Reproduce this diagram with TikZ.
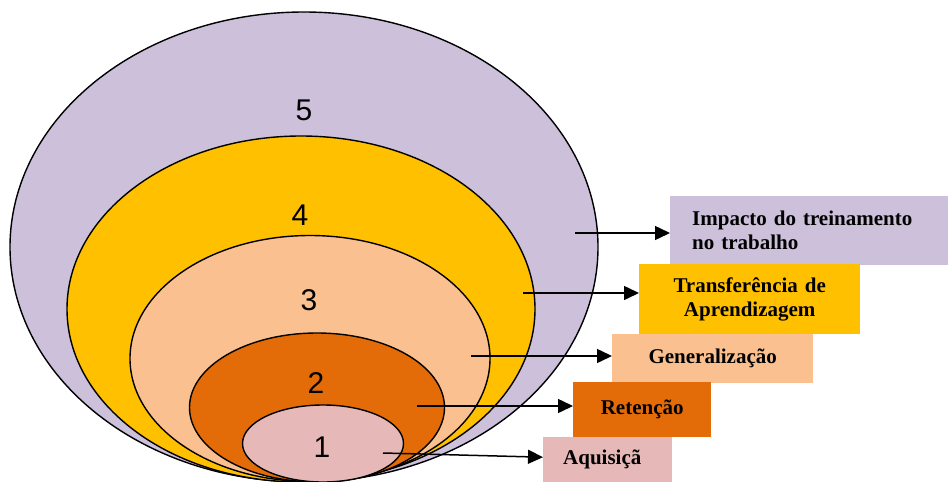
\documentclass[tikz,border=0pt]{standalone}
\usepackage{fontspec}
\setmainfont{Liberation Serif}
\newfontfamily\digitfont{Liberation Sans}
\usetikzlibrary{shapes.geometric,arrows.meta}

\definecolor{lavender}{HTML}{CCC0DA}
\definecolor{gold}{HTML}{FFC000}
\definecolor{peach}{HTML}{FAC090}
\definecolor{burnt}{HTML}{E36C09}
\definecolor{rose}{HTML}{E6B9B8}

\tikzset{
  ring/.style={ellipse, draw=black, line width=1.4pt, inner sep=0pt},
  level/.style={font=\digitfont\fontsize{30}{30}\selectfont, inner sep=0pt},
  label box/.style={rectangle, anchor=north west, inner ysep=0pt,
    font=\bfseries\fontsize{21}{24}\selectfont},
  arr/.style={line width=1.5pt, -{Triangle[length=15pt,width=14pt]}}
}

\begin{document}
\begin{tikzpicture}[x=1pt,y=-1pt]
\useasboundingbox (0,0) rectangle (948,482);

% nested levels, outermost first
\node[ring, fill=lavender, minimum width=588pt, minimum height=470pt] (e5) at (304,247) {};
\node[ring, fill=gold,     minimum width=468pt, minimum height=346pt] (e4) at (301,309) {};
\node[ring, fill=peach,    minimum width=360pt, minimum height=246pt] (e3) at (310,358.5) {};
\node[ring, fill=burnt,    minimum width=255pt, minimum height=149pt] (e2) at (317,407.5) {};
\node[ring, fill=rose,     minimum width=161pt, minimum height=77pt]  (e1) at (323,443.5) {};

% level numbers
\node[level] (n5) at (304,110) {5};
\node[level] (n4) at (300,215) {4};
\node[level] (n3) at (309,300) {3};
\node[level] (n2) at (316,383) {2};
\node[level] (n1) at (322,447) {1};

% label boxes
\node[label box, fill=lavender, minimum width=278pt, minimum height=69pt,
      text width=234pt, inner xsep=22pt, align=left] (b5) at (670,196)
      {Impacto do treinamento\\no trabalho};
\node[label box, fill=gold, minimum width=221pt, minimum height=70pt,
      text width=211pt, inner xsep=5pt, align=center] (b4) at (639,264)
      {Transferência de\\Aprendizagem};
\node[label box, fill=peach, minimum width=201pt, minimum height=49pt,
      text width=191pt, inner xsep=5pt, align=center] (b3) at (612,334)
      {Generalização};
\node[label box, fill=burnt, minimum width=138pt, minimum height=55pt,
      text width=128pt, inner xsep=5pt, align=center] (b2) at (573,382)
      {Retenção};
\node[label box, fill=rose, minimum width=129pt, minimum height=45pt,
      text width=89pt, inner xsep=20pt, align=left] (b1) at (543,437)
      {Aquisiçã};

% arrow start points inside the levels
\coordinate (s5) at (575,233);
\coordinate (s4) at (523,293);
\coordinate (s3) at (471,356);
\coordinate (s2) at (417,406);
\coordinate (s1) at (383,453);

\draw[arr] (s5) -- (s5 -| b5.west);
\draw[arr] (s4) -- (s4 -| b4.west);
\draw[arr] (s3) -- (s3 -| b3.west);
\draw[arr] (s2) -- (s2 -| b2.west);
\draw[arr] (s1) -- ([yshift=2.5pt]b1.west);
\end{tikzpicture}
\end{document}
